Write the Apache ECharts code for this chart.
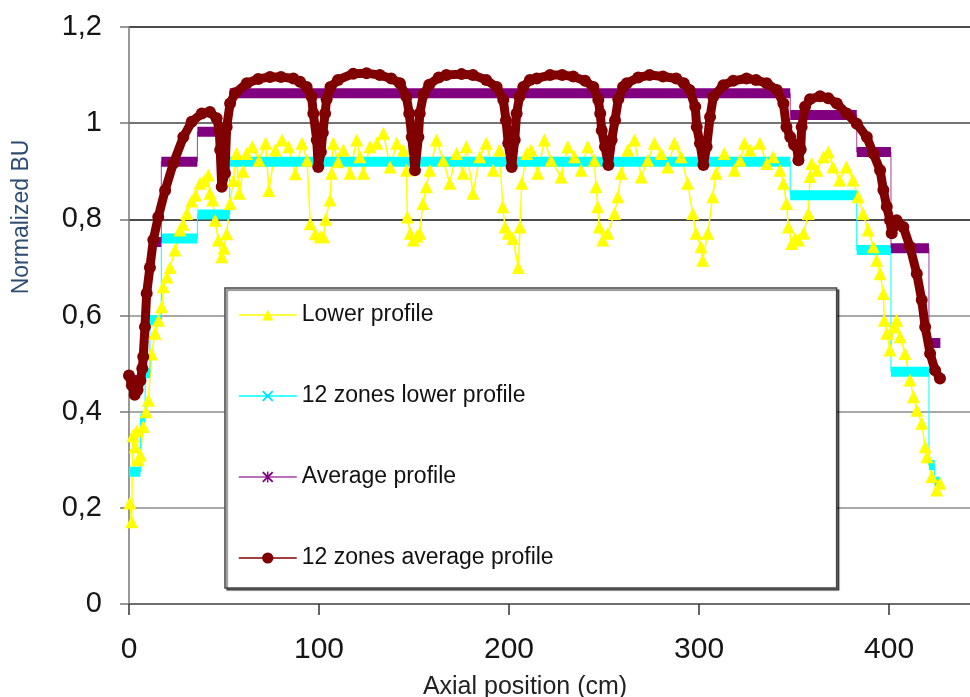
<!DOCTYPE html>
<html>
<head>
<meta charset="utf-8">
<script src="https://cdn.jsdelivr.net/npm/echarts@6.0.0/dist/echarts.min.js"></script>
<style>
html, body { margin: 0; padding: 0; background: #fff; }
#chart { width: 970px; height: 697px; }
</style>
</head>
<body>
<div id="chart"></div>
<script>
// data (cm along the axis, normalized burn-up)

// Lower profile (yellow triangles)
var lowerPos = [0.5, 1.4, 2, 3.2, 4, 4.9, 6, 7.5, 9, 10.2, 11.9, 13.7, 15.5, 17.2, 18, 20, 21.6, 24.2, 26.8, 28.5,
  30.4, 33, 35, 37.4, 39.5, 41.7, 42.6, 44, 45.3, 47, 48.8, 50, 51.4, 53.2, 54.9, 56.6, 58, 60, 61.9, 64.9,
  68.4, 71.9, 73.6, 77, 80.5, 84, 87.5, 91, 93.7, 95.4, 98, 100.6, 102.3, 103.5, 105.8, 106.6, 107.5, 110, 112.8, 116.3,
  119.8, 121.5, 123.3, 126.8, 130.4, 133.9, 137.4, 140.9, 144.4, 146, 146.5, 148, 149.6, 151.5, 153, 154.7, 156.5, 158.3, 161.8, 165.3,
  168.8, 172.3, 175.8, 177.5, 181, 184.6, 188, 191.6, 195, 196.7, 197.9, 199.6, 202, 204.9, 205.8, 206.7, 209.3, 211.6, 215.1, 218.6,
  222.1, 227.4, 230.9, 234.4, 237.9, 241.4, 244.9, 245.8, 246.7, 247.5, 249.3, 252, 255.5, 257.3, 259, 262.5, 266, 269.6, 273, 276.5,
  280, 283.5, 287, 290.5, 294, 296.7, 298.4, 301, 301.9, 304.6, 307.2, 309, 313.3, 318.6, 321.6, 323.9, 326.8, 332, 335.6, 339,
  342.6, 344.4, 346, 347, 348.8, 350.5, 352.3, 355, 357.5, 358.4, 359.3, 362, 365.5, 368, 370.5, 374, 377.5, 381, 383.7, 386.3,
  389, 391.7, 393.5, 395.3, 397, 397.5, 398.8, 400.5, 402.3, 404, 405.8, 408.4, 411, 412.8, 414.6, 417.2, 419, 420, 422.5, 425.1, 426.8];
var lowerVal = [0.21, 0.171, 0.35, 0.327, 0.36, 0.30, 0.31, 0.369, 0.40, 0.424, 0.52, 0.563, 0.59, 0.618, 0.66, 0.68, 0.70, 0.736, 0.778, 0.79,
  0.812, 0.838, 0.85, 0.875, 0.88, 0.892, 0.854, 0.84, 0.798, 0.757, 0.722, 0.74, 0.77, 0.833, 0.881, 0.937, 0.854, 0.90, 0.937, 0.951,
  0.923, 0.958, 0.86, 0.944, 0.965, 0.951, 0.895, 0.958, 0.923, 0.791, 0.77, 0.764, 0.764, 0.80, 0.84, 0.896, 0.958, 0.92, 0.944, 0.896,
  0.965, 0.93, 0.896, 0.951, 0.958, 0.979, 0.909, 0.958, 0.944, 0.902, 0.805, 0.771, 0.757, 0.765, 0.771, 0.833, 0.868, 0.902, 0.965, 0.923,
  0.875, 0.937, 0.896, 0.951, 0.854, 0.93, 0.958, 0.902, 0.944, 0.826, 0.784, 0.771, 0.76, 0.70, 0.784, 0.875, 0.937, 0.944, 0.896, 0.965,
  0.923, 0.888, 0.951, 0.93, 0.902, 0.951, 0.923, 0.868, 0.826, 0.784, 0.757, 0.771, 0.812, 0.847, 0.896, 0.944, 0.965, 0.888, 0.923, 0.958,
  0.937, 0.909, 0.958, 0.93, 0.875, 0.812, 0.771, 0.743, 0.715, 0.771, 0.847, 0.896, 0.937, 0.902, 0.923, 0.958, 0.944, 0.958, 0.916, 0.93,
  0.902, 0.875, 0.833, 0.784, 0.75, 0.76, 0.757, 0.771, 0.812, 0.889, 0.916, 0.902, 0.93, 0.94, 0.909, 0.882, 0.909, 0.882, 0.847, 0.812,
  0.778, 0.743, 0.715, 0.687, 0.646, 0.59, 0.563, 0.528, 0.576, 0.59, 0.556, 0.521, 0.466, 0.431, 0.403, 0.376, 0.327, 0.306, 0.265, 0.237, 0.251];

// 12 zones: edges in cm and the zone values
var zoneEdges = [0, 6, 8.5, 11, 17, 36, 53, 348, 383, 401, 421, 424, 427];
var zonesLowerVal = [0.275, 0.386, 0.48, 0.59, 0.76, 0.81, 0.92, 0.85, 0.736, 0.483, 0.289, 0.254];
var averageVal = [0.466, 0.543, 0.65, 0.753, 0.92, 0.982, 1.062, 1.017, 0.94, 0.74, 0.543, 0.543];

// 12 zones average profile (dark red circles)
var zonesAvgPos = [0, 1.5, 3, 4.5, 6, 7, 7.5, 8.4, 9.3, 11, 12.8, 15.4, 19, 23.3, 28.6, 33, 38.3, 42.6, 46.1, 47.5,
  48, 48.8, 50.5, 51.4, 53.2, 55.8, 62, 68, 74.2, 80, 86.5, 90, 93.5, 96.1, 97, 98.8, 99.6, 101, 102, 103.2,
  104, 106, 110, 118, 125, 132, 138, 142.6, 146, 147.5, 148.8, 150.5, 152.3, 153, 155, 158, 163, 167, 175, 181,
  188, 193.5, 197, 198.4, 199.6, 201.4, 203, 204, 205.5, 207.5, 211, 214.6, 221.6, 228, 233.8, 240, 244.4, 247, 248, 248.8,
  250.5, 252.3, 254, 255.8, 257.5, 260, 262, 268, 274, 281, 288, 292, 295, 298, 298.8, 300.5, 302.3, 304, 305.8, 307.5,
  312.8, 318, 325, 330, 335.6, 340.9, 344.4, 346, 348, 350, 351.4, 352.3, 353.5, 354, 355.8, 358.4, 363.7, 368, 372.5, 377.7,
  383, 388.3, 391.7, 395.3, 397, 398.8, 400.5, 401.4, 402.5, 404, 407.5, 411, 414.6, 417.2, 419, 421.6, 424.2, 426.8];
var zonesAvgVal = [0.475, 0.455, 0.435, 0.445, 0.465, 0.49, 0.514, 0.576, 0.646, 0.70, 0.757, 0.805, 0.86, 0.916, 0.971, 1.003, 1.02, 1.023, 1.01, 0.985,
  0.944, 0.868, 0.896, 0.992, 1.041, 1.062, 1.083, 1.092, 1.096, 1.096, 1.093, 1.086, 1.075, 1.055, 1.02, 0.965, 0.909, 0.94, 0.98, 1.02,
  1.05, 1.075, 1.09, 1.103, 1.104, 1.10, 1.093, 1.083, 1.055, 1.02, 0.971, 0.902, 0.971, 1.02, 1.06, 1.08, 1.095, 1.10, 1.102, 1.10,
  1.09, 1.075, 1.048, 1.006, 0.958, 0.909, 0.965, 1.02, 1.055, 1.075, 1.09, 1.093, 1.10, 1.10, 1.097, 1.088, 1.075, 1.048, 1.02, 0.985,
  0.951, 0.913, 0.965, 1.006, 1.05, 1.075, 1.083, 1.095, 1.10, 1.097, 1.093, 1.083, 1.069, 1.034, 0.992, 0.958, 0.913, 0.951, 1.013, 1.055,
  1.079, 1.088, 1.093, 1.09, 1.083, 1.069, 1.041, 0.992, 0.971, 0.955, 0.951, 0.923, 0.945, 0.992, 1.034, 1.05, 1.056, 1.052, 1.041, 1.02,
  0.999, 0.971, 0.937, 0.902, 0.861, 0.826, 0.798, 0.771, 0.785, 0.798, 0.784, 0.743, 0.687, 0.632, 0.576, 0.521, 0.486, 0.469];

var xTicks = [0, 100, 200, 300, 400];

var font = '"Liberation Sans", Arial, sans-serif';

function pairs(xs, ys) {
  return xs.map(function (x, i) { return [x, ys[i]]; });
}

// thin step line through the zones
function stepData(edges, vals) {
  var d = [];
  for (var i = 0; i < vals.length; i++) {
    d.push([edges[i], vals[i]], [edges[i + 1], vals[i]]);
  }
  return d;
}

// thick flat band for each zone, broken between zones
function bandData(edges, vals) {
  var d = [];
  for (var i = 0; i < vals.length; i++) {
    d.push([edges[i], vals[i]], [edges[i + 1], vals[i]], [edges[i + 1], '-']);
  }
  return d;
}

var crossPath = 'path://M0,1.2L1.2,0L5,3.8L8.8,0L10,1.2L6.2,5L10,8.8L8.8,10L5,6.2L1.2,10L0,8.8L3.8,5Z';
var starPath = 'path://M0,1.2L1.2,0L5,3.8L8.8,0L10,1.2L6.2,5L10,8.8L8.8,10L5,6.2L1.2,10L0,8.8L3.8,5Z M4.4,0L5.6,0L5.6,10L4.4,10Z';

var myChart = echarts.init(document.getElementById('chart'));

var option = {
  animation: false,
  backgroundColor: '#fff',
  grid: { left: 129, right: 0, top: 27, bottom: 93 },
  xAxis: {
    type: 'value',
    min: 0, max: 442.6, interval: 100,
    axisLine: { lineStyle: { color: '#666', width: 1.5 } },
    axisTick: { length: 11, customValues: xTicks, lineStyle: { color: '#333', width: 1.5 } },
    splitLine: { show: false },
    axisLabel: {
      fontFamily: font, fontSize: 30, color: '#151515', margin: 31,
      customValues: xTicks
    }
  },
  yAxis: {
    type: 'value',
    min: 0, max: 1.2, interval: 0.2,
    axisLine: { show: true, lineStyle: { color: '#777', width: 1.5 } },
    axisTick: { show: true, length: 9, lineStyle: { color: '#777', width: 1.5 } },
    splitLine: {
      lineStyle: {
        color: ['#666', '#8c8c8c', '#8c8c8c', '#8c8c8c', '#111', '#444', '#111'],
        width: 1.5
      }
    },
    axisLabel: {
      fontFamily: font, fontSize: 29, color: '#151515', margin: 27,
      formatter: function (v) { return (+v.toFixed(1)).toString().replace('.', ','); }
    }
  },
  legend: {
    orient: 'vertical',
    left: 225, top: 288,
    data: ['Lower profile', '12 zones lower profile', 'Average profile', '12 zones average profile'],
    itemWidth: 58, itemHeight: 14, itemGap: 57,
    padding: [15, 283, 18, 13],
    backgroundColor: '#fff',
    borderColor: '#444', borderWidth: 1.5,
    shadowColor: 'rgba(0,0,0,0.55)', shadowOffsetX: 2, shadowOffsetY: 2, shadowBlur: 1,
    lineStyle: { width: 1.5 },
    textStyle: { fontFamily: font, fontSize: 23, color: '#111', lineHeight: 24 },
    selectedMode: false
  },
  graphic: [
    {
      type: 'text', x: 22, y: 217, rotation: Math.PI / 2,
      style: { text: 'Normalized BU', fontFamily: font, fontSize: 23, fill: '#2d4c72', align: 'center', verticalAlign: 'middle' }
    },
    {
      type: 'text', x: 525, y: 687,
      style: { text: 'Axial position (cm)', fontFamily: font, fontSize: 25, fill: '#222', align: 'center', verticalAlign: 'middle' }
    }
  ],
  series: [
    {
      name: 'Lower profile',
      type: 'line',
      data: pairs(lowerPos, lowerVal),
      symbol: 'triangle', symbolSize: 13,
      lineStyle: { color: '#ffff00', width: 1.5 },
      itemStyle: { color: '#ffff00' }
    },
    {
      name: '12 zones lower profile',
      type: 'line',
      data: stepData(zoneEdges, zonesLowerVal),
      symbol: crossPath, showSymbol: false,
      lineStyle: { color: '#00ffff', width: 1 },
      itemStyle: { color: '#00e0ff' }
    },
    {
      name: 'lowerBand',
      type: 'line', silent: true,
      data: bandData(zoneEdges, zonesLowerVal),
      symbol: 'none',
      lineStyle: { color: '#00ffff', width: 10, cap: 'butt' },
      itemStyle: { color: '#00ffff' }
    },
    {
      name: 'Average profile',
      type: 'line',
      data: stepData(zoneEdges, averageVal),
      symbol: starPath, showSymbol: false,
      lineStyle: { color: '#a040a0', width: 1 },
      itemStyle: { color: '#800080' }
    },
    {
      name: 'averageBand',
      type: 'line', silent: true,
      data: bandData(zoneEdges, averageVal),
      symbol: 'none',
      lineStyle: { color: '#800080', width: 10, cap: 'butt' },
      itemStyle: { color: '#800080' }
    },
    {
      name: '12 zones average profile',
      type: 'line',
      data: pairs(zonesAvgPos, zonesAvgVal),
      symbol: 'circle', symbolSize: 12,
      lineStyle: { color: '#800000', width: 9 },
      itemStyle: { color: '#800000' }
    }
  ]
};

myChart.setOption(option);
</script>
</body>
</html>
